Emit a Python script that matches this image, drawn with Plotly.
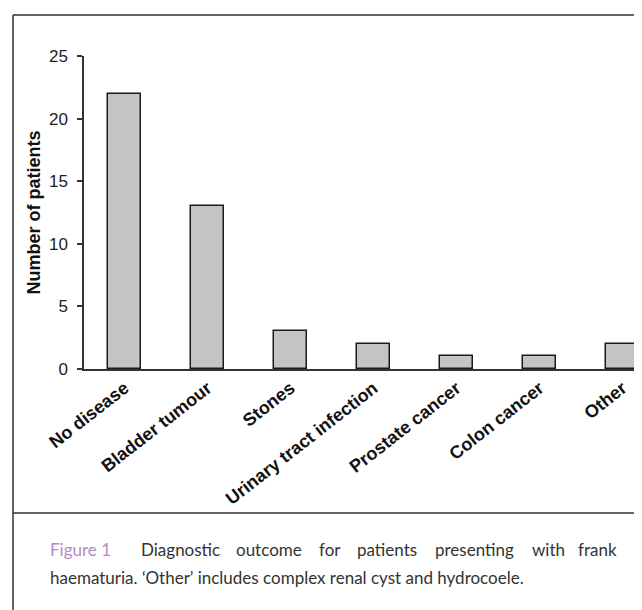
import plotly.graph_objects as go

categories = ["No disease", "Bladder tumour", "Stones", "Urinary tract infection",
              "Prostate cancer", "Colon cancer", "Other"]
patients = [22, 13, 3, 2, 1, 1, 2]
y_ticks = [0, 5, 10, 15, 20, 25]

caption_label = "Figure 1"
caption_line1 = ["Diagnostic", "outcome", "for", "patients", "presenting", "with", "frank"]
caption_line2 = "haematuria. \u2018Other\u2019 includes complex renal cyst and hydrocoele."

W, H = 642, 610
L, T, B = 76, 48, 610 - 361
PW = W - L
PH = 361 - T

def px_x(px):
    return (px - L) / PW

def px_y(py):
    return (361 - py) / PH

fig = go.Figure(go.Bar(
    x=list(range(len(categories))), y=patients,
    width=0.40,
    marker=dict(color="#c4c4c4", line=dict(color="#1a1a1a", width=1.5)),
))

FONT = "Liberation Sans, Arial, sans-serif"

fig.update_layout(
    width=W, height=H,
    margin=dict(l=L, r=0, t=T, b=B, pad=0),
    paper_bgcolor="white", plot_bgcolor="white",
    showlegend=False,
    bargap=0,
    xaxis=dict(
        range=[-0.488, -0.488 + PW / 83.0],
        tickmode="array", tickvals=list(range(len(categories))), ticktext=categories,
        tickangle=-38, tickfont=dict(family=FONT, size=18, color="#111", weight="bold"),
        showline=True, linecolor="#333", linewidth=1.5,
        ticks="", showgrid=False, zeroline=False,
    ),
    yaxis=dict(
        range=[0, 25], tickmode="array", tickvals=y_ticks,
        ticktext=[str(v) for v in y_ticks],
        tickfont=dict(family=FONT, size=17, color="#222"),
        showline=True, linecolor="#333", linewidth=1.5,
        ticks="outside", ticklen=5, tickwidth=1.5, tickcolor="#333",
        ticklabelstandoff=6,
        showgrid=False, zeroline=False,
    ),
    font=dict(family=FONT),
)

# y axis title
fig.add_annotation(
    text="<b>Number of patients</b>", xref="paper", yref="paper",
    x=px_x(25), y=0.5, textangle=-90, showarrow=False,
    font=dict(family=FONT, size=18, color="#111"), xanchor="center", yanchor="middle",
)

# frame lines
line_style = dict(color="#333", width=1.5)
fig.add_shape(type="line", xref="paper", yref="paper",
              x0=px_x(5), x1=px_x(W + 5), y0=px_y(7), y1=px_y(7), line=line_style)
fig.add_shape(type="line", xref="paper", yref="paper",
              x0=px_x(5), x1=px_x(5), y0=px_y(7), y1=px_y(H + 5), line=line_style)
fig.add_shape(type="line", xref="paper", yref="paper",
              x0=px_x(5), x1=px_x(W + 5), y0=px_y(505), y1=px_y(505), line=line_style)

# caption (first line justified: words placed individually)
CAP_FONT = "Lato, Liberation Sans, sans-serif"
CAP_SIZE = 17
fig.add_annotation(
    text=caption_label, xref="paper", yref="paper", x=px_x(40), y=px_y(541),
    xanchor="left", yanchor="middle", showarrow=False,
    font=dict(family=CAP_FONT, size=CAP_SIZE, color="#b58ac4"),
)
word_pos = [(131, "left"), (226, "left"), (309, "left"), (347, "left"),
            (425, "left"), (522, "left"), (611, "right")]
for (wx, anchor), word in zip(word_pos, caption_line1):
    fig.add_annotation(
        text=word, xref="paper", yref="paper", x=px_x(wx), y=px_y(541),
        xanchor=anchor, yanchor="middle", showarrow=False,
        font=dict(family=CAP_FONT, size=CAP_SIZE, color="#333"),
    )
fig.add_annotation(
    text=caption_line2,
    xref="paper", yref="paper", x=px_x(40), y=px_y(569),
    xanchor="left", yanchor="middle", showarrow=False,
    font=dict(family=CAP_FONT, size=CAP_SIZE, color="#333"),
)

fig.write_html("out.html")
